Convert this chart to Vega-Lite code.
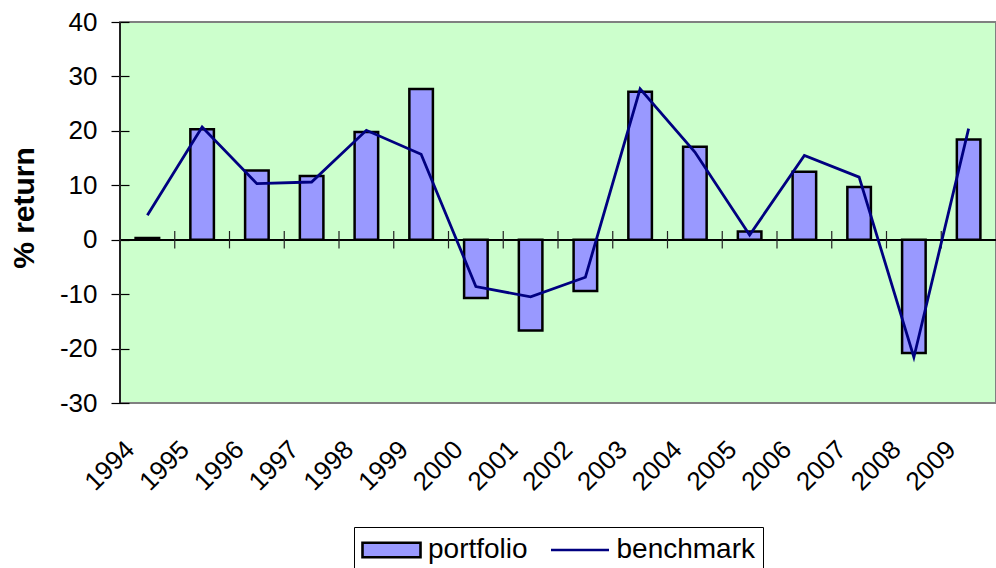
{
  "$schema": "https://vega.github.io/schema/vega-lite/v6.json",
  "width": 876,
  "height": 381,
  "autosize": {"type": "none"},
  "padding": {"left": 120, "top": 22, "right": 0, "bottom": 165},
  "background": "white",
  "config": {
    "view": {"fill": "#ccffcc", "stroke": "#808080", "strokeWidth": 2},
    "font": "Liberation Sans"
  },
  "data": {
    "values": [
      {"year": "1994", "portfolio": 0.3, "benchmark": 4.5},
      {"year": "1995", "portfolio": 20.3, "benchmark": 20.7},
      {"year": "1996", "portfolio": 12.7, "benchmark": 10.3},
      {"year": "1997", "portfolio": 11.7, "benchmark": 10.6},
      {"year": "1998", "portfolio": 19.8, "benchmark": 20.1},
      {"year": "1999", "portfolio": 27.7, "benchmark": 15.7},
      {"year": "2000", "portfolio": -10.7, "benchmark": -8.6},
      {"year": "2001", "portfolio": -16.7, "benchmark": -10.5},
      {"year": "2002", "portfolio": -9.4, "benchmark": -6.9},
      {"year": "2003", "portfolio": 27.2, "benchmark": 27.7},
      {"year": "2004", "portfolio": 17.1, "benchmark": 16.1},
      {"year": "2005", "portfolio": 1.5, "benchmark": 0.85},
      {"year": "2006", "portfolio": 12.5, "benchmark": 15.5},
      {"year": "2007", "portfolio": 9.7, "benchmark": 11.5},
      {"year": "2008", "portfolio": -20.8, "benchmark": -21.6},
      {"year": "2009", "portfolio": 18.4, "benchmark": 20.4}
    ]
  },
  "layer": [
    {
      "mark": {"type": "bar", "width": {"band": 0.43}, "strokeWidth": 2.5},
      "encoding": {
        "x": {
          "field": "year", "type": "ordinal",
          "scale": {"paddingInner": 0, "paddingOuter": 0},
          "axis": {
            "title": null, "domain": false, "ticks": false,
            "labelAngle": -45, "labelAlign": "right", "labelBaseline": "middle",
            "labelPadding": 42, "labelOffset": -17,
            "labelFontSize": 26, "labelFont": "Liberation Sans", "labelColor": "black"
          }
        },
        "y": {
          "field": "portfolio", "type": "quantitative",
          "scale": {"domain": [-30, 40], "nice": false, "zero": false},
          "axis": {
            "title": "% return", "titleFontSize": 30, "titleFontWeight": "bold",
            "titleFont": "Liberation Sans", "titleColor": "black", "titlePadding": 20,
            "titleY": 185.5,
            "values": [-30, -20, -10, 0, 10, 20, 30, 40],
            "labelExpr": "replace(datum.label, '\u2212', '-')",
            "grid": false, "domain": false, "offset": -9,
            "tickColor": "black", "tickSize": 18, "tickWidth": 1.2,
            "labelFontSize": 26, "labelFont": "Liberation Sans", "labelColor": "black",
            "labelPadding": 14
          }
        },
        "fill": {
          "datum": "portfolio",
          "scale": {"domain": ["portfolio", "benchmark"], "range": ["#9999ff", "transparent"]},
          "legend": {
            "title": null, "orient": "none", "direction": "horizontal",
            "legendX": 234, "legendY": 505,
            "strokeColor": "black", "padding": 7, "fillColor": "white",
            "labelFontSize": 28, "labelFont": "Liberation Sans", "labelColor": "black",
            "labelLimit": 400, "labelOffset": 20.5, "symbolOffset": 14.5,
            "columnPadding": 17.5, "symbolSize": 841, "symbolStrokeWidth": 2.6,
            "symbolOpacity": 1
          }
        },
        "stroke": {
          "datum": "portfolio",
          "scale": {"domain": ["portfolio", "benchmark"], "range": ["#000000", "#000080"]},
          "legend": {"title": null}
        }
      }
    },
    {
      "mark": {"type": "rule", "color": "black", "strokeWidth": 1.2},
      "encoding": {"y": {"datum": 0}}
    },
    {
      "mark": {"type": "rule", "color": "#222222", "strokeWidth": 1.5},
      "encoding": {"x": {"datum": "1994", "type": "ordinal", "bandPosition": 0}}
    },
    {
      "mark": {"type": "rule", "color": "#222222", "strokeWidth": 1.2},
      "encoding": {
        "x": {"field": "year", "type": "ordinal", "bandPosition": 0},
        "y": {"datum": -1.6},
        "y2": {"datum": 1.6}
      }
    },
    {
      "mark": {"type": "line", "strokeWidth": 2.8},
      "encoding": {
        "x": {"field": "year", "type": "ordinal", "bandPosition": 0.5},
        "y": {"field": "benchmark", "type": "quantitative"},
        "stroke": {"datum": "benchmark", "legend": {"title": null}}
      }
    },
    {
      "mark": {"type": "point", "opacity": 0},
      "encoding": {
        "x": {"field": "year", "type": "ordinal", "bandPosition": 0.5},
        "y": {"field": "benchmark", "type": "quantitative"},
        "shape": {
          "datum": "benchmark",
          "scale": {"domain": ["portfolio", "benchmark"], "range": ["M-2,-0.5H2V0.5H-2Z", "M-2,0H2"]},
          "legend": {"title": null}
        }
      }
    }
  ]
}
